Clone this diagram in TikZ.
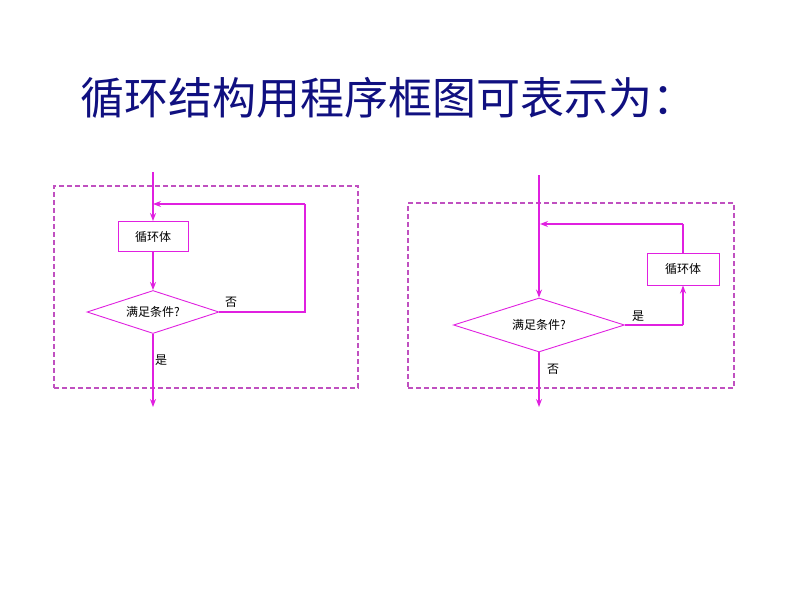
\documentclass[tikz,border=0pt]{standalone}
\usepackage{fontspec}
\newfontfamily\cjk{Noto Sans CJK SC}
\usetikzlibrary{shapes.geometric,arrows.meta}
\definecolor{mag}{HTML}{E020E0}
\definecolor{dash}{HTML}{C050C0}
\definecolor{ttl}{HTML}{101080}
\begin{document}
\begin{tikzpicture}[x=1pt,y=-1pt,
  ln/.style={draw=mag,line width=1.3pt},
  ar/.style={ln,-{Stealth[length=8pt,width=6pt]}},
  frm/.style={draw=dash,dash pattern=on 5pt off 3pt,line width=1.1pt},
  bx/.style={draw=mag,line width=0.9pt,minimum width=70pt,minimum height=30pt,font=\cjk\fontsize{12}{12}\selectfont,inner sep=0pt},
  dm/.style={draw=mag,line width=0.9pt,diamond,aspect=3.1,inner sep=0pt,font=\cjk\fontsize{12}{12}\selectfont},
  lb/.style={font=\cjk\fontsize{12}{12}\selectfont,inner sep=0pt}]
\useasboundingbox (0,0) rectangle (794,596);
\node[font=\cjk\fontsize{44}{44}\selectfont,text=ttl,inner sep=0pt] (title) at (388,98) {循环结构用程序框图可表示为：};
% left
\node[frm,minimum width=304pt,minimum height=202pt,inner sep=0pt] (f1) at (206,287) {};
\coordinate (s1) at (153,172);
\node[bx] (b1) at (153,236.5) {循环体};
\node[dm,minimum width=132pt,minimum height=43pt] (d1) at (153,312) {满足条件?};
\coordinate (e1) at (153,407);
\coordinate (r1) at (305,312);
\coordinate (r2) at (305,204);
\coordinate (j1) at (153,204);
\draw[ar] (s1) -- (b1.north);
\draw[ar] (b1) -- (d1);
\draw[ar] (d1) -- (e1);
\draw[ln] (d1.east) -- (r1) -- (r2);
\draw[ar] (r2) -- (j1);
\node[lb] (no1) at (231,302) {否};
\node[lb] (yes1) at (161,360) {是};
% right
\node[frm,minimum width=326pt,minimum height=185pt,inner sep=0pt] (f2) at (571,295.5) {};
\coordinate (s2) at (539,175);
\node[dm,minimum width=171pt,minimum height=54pt] (d2) at (539,325) {满足条件?};
\node[bx,minimum width=72pt,minimum height=32pt] (b2) at (683,269) {循环体};
\coordinate (e2) at (539,407);
\coordinate (c2) at (683,325);
\coordinate (t2) at (683,224);
\coordinate (j2) at (540,224);
\draw[ar] (s2) -- (d2.north);
\draw[ar] (d2) -- (e2);
\draw[ln] (d2.east) -- (c2);
\draw[ar] (c2) -- (b2.south);
\draw[ln] (b2.north) -- (t2);
\draw[ar] (t2) -- (j2);
\node[lb] (yes2) at (638,316) {是};
\node[lb] (no2) at (553,369) {否};
\end{tikzpicture}
\end{document}
